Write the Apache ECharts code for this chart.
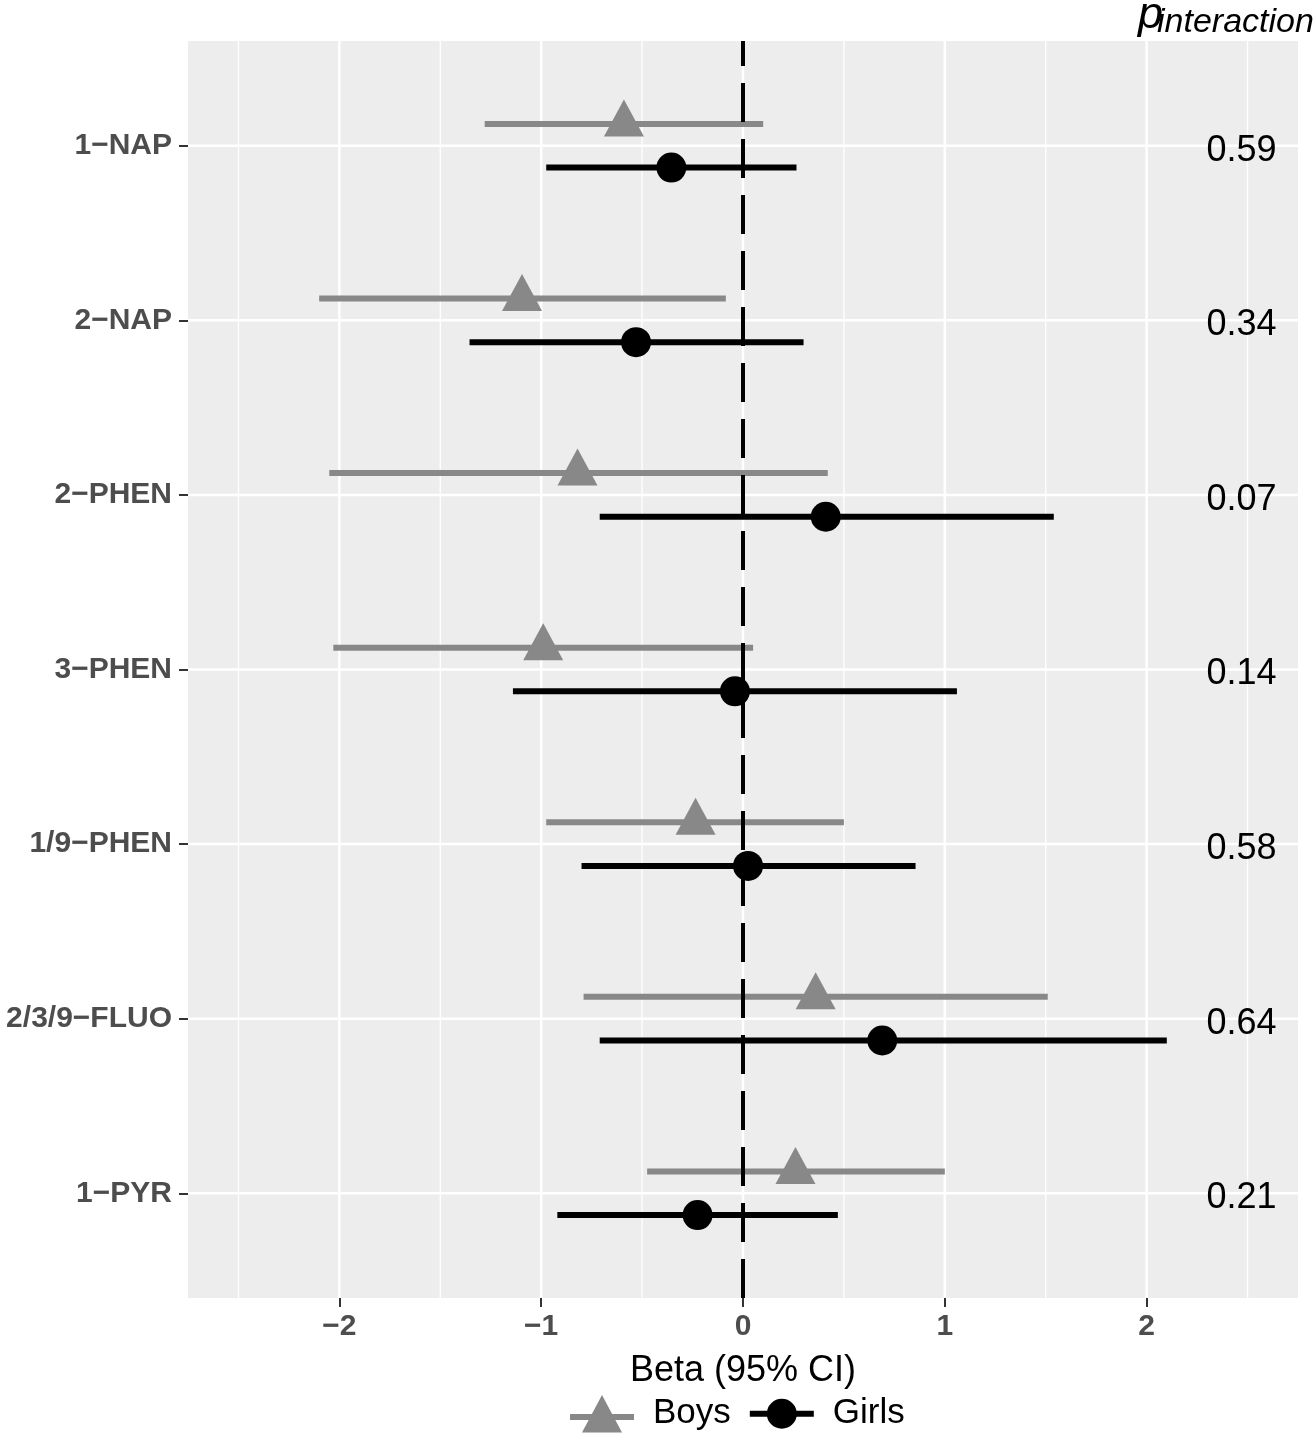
<!DOCTYPE html>
<html><head><meta charset="utf-8">
<script src="https://cdn.jsdelivr.net/npm/echarts@6/dist/echarts.min.js"></script>
<style>html,body{margin:0;padding:0;background:#fff}#c{width:1314px;height:1439px}</style>
</head><body><div id="c"></div>
<script>
// ---- data ----
const categories = ['1−NAP','2−NAP','2−PHEN','3−PHEN','1/9−PHEN','2/3/9−FLUO','1−PYR'];
const boysEst  = [-0.59, -1.095, -0.82, -0.99, -0.235, 0.36, 0.26];
const boysLow  = [-1.28, -2.10, -2.05, -2.03, -0.975, -0.79, -0.475];
const boysHigh = [0.10, -0.085, 0.42, 0.05, 0.50, 1.51, 1.00];
const girlsEst  = [-0.355, -0.53, 0.41, -0.04, 0.025, 0.69, -0.225];
const girlsLow  = [-0.975, -1.355, -0.71, -1.14, -0.80, -0.71, -0.92];
const girlsHigh = [0.265, 0.30, 1.54, 1.06, 0.855, 2.10, 0.47];
const pValues = ['0.59','0.34','0.07','0.14','0.58','0.64','0.21'];
const xTicks = [-2, -1, 0, 1, 2];
const xMinor = [-2.5, -1.5, -0.5, 0.5, 1.5, 2.5];
const refLine = [[0, 7.6], [0, 0.4]];

// ---- layout constants ----
const Y_MIN = 0.4, Y_MAX = 7.6, X_MIN = -2.75, X_MAX = 2.75, DODGE = 0.125, P_X = 2.644;
const FONT = '"Liberation Sans", Arial, Helvetica, sans-serif';
const GREY = '#888888', BLACK = '#000000';
const catPos = categories.map((c, i) => i + 1);

const barData = (lo, hi, off) => lo.map((l, i) => [l, hi[i], i + 1 + off]);
const ptData = (est, off) => est.map((e, i) => [e, i + 1 + off]);

const errRender = color => (params, api) => {
  const a = api.coord([api.value(0), api.value(2)]);
  const b = api.coord([api.value(1), api.value(2)]);
  return {type: 'line', shape: {x1: a[0], y1: a[1], x2: b[0], y2: b[1]},
          style: {stroke: color, lineWidth: 6}};
};
const vGrid = w => (params, api) => {
  const a = api.coord([api.value(0), Y_MIN]);
  const b = api.coord([api.value(0), Y_MAX]);
  return {type: 'line', shape: {x1: a[0], y1: a[1], x2: b[0], y2: b[1]},
          style: {stroke: '#ffffff', lineWidth: w}};
};
const hGrid = (params, api) => {
  const a = api.coord([X_MIN, api.value(1)]);
  const b = api.coord([X_MAX, api.value(1)]);
  return {type: 'line', shape: {x1: a[0], y1: a[1], x2: b[0], y2: b[1]},
          style: {stroke: '#ffffff', lineWidth: 2.5}};
};

const boysIcon = 'path://M0 19 L64 19 L64 25 L0 25 Z M32 0 L52 37.5 L12 37.5 Z';
const girlsIcon = 'path://M0 12 L64 12 L64 18 L0 18 Z M17 15 A15 15 0 1 1 47 15 A15 15 0 1 1 17 15 Z';

const chart = echarts.init(document.getElementById('c'), null, {renderer: 'canvas'});
chart.setOption({
  animation: false,
  backgroundColor: '#ffffff',
  grid: {left: 188, top: 41, width: 1110, height: 1257, show: true,
         backgroundColor: '#EDEDED', borderWidth: 0, containLabel: false, outerBoundsMode: 'none'},
  xAxis: {
    type: 'value', min: X_MIN, max: X_MAX,
    axisLine: {show: true, onZero: false, lineStyle: {opacity: 0}},
    axisTick: {show: true, customValues: xTicks, length: 9, lineStyle: {color: '#333333', width: 2, opacity: 1}},
    axisLabel: {customValues: xTicks, margin: 14, fontSize: 30, fontWeight: 'bold', color: '#4D4D4D',
                fontFamily: FONT, formatter: v => (v < 0 ? '−' : '') + Math.abs(v)},
    splitLine: {show: false},
    name: 'Beta (95% CI)', nameLocation: 'middle', nameGap: 55,
    nameTextStyle: {fontSize: 36, color: '#000', fontFamily: FONT}
  },
  yAxis: {
    type: 'value', min: Y_MIN, max: Y_MAX, inverse: true,
    axisLine: {show: true, onZero: false, lineStyle: {opacity: 0}},
    axisTick: {show: true, customValues: catPos, length: 9, lineStyle: {color: '#333333', width: 2, opacity: 1}},
    axisLabel: {customValues: catPos, margin: 16, fontSize: 30, fontWeight: 'bold', color: '#4D4D4D',
                fontFamily: FONT, formatter: v => categories[Math.round(v) - 1] || ''},
    splitLine: {show: false}
  },
  legend: {
    left: 565, top: 1390, orient: 'horizontal', itemWidth: 64, itemHeight: 40, itemGap: 19,
    selectedMode: false,
    textStyle: {fontSize: 35, color: '#000', fontFamily: FONT, padding: [0, 0, 0, 14]},
    data: [
      {name: 'Boys', icon: boysIcon, itemStyle: {color: GREY}},
      {name: 'Girls', icon: girlsIcon, itemStyle: {color: BLACK}}
    ]
  },
  graphic: [
    {type: 'text', x: 1138, y: 15, style: {text: 'p', font: 'italic 45px ' + FONT, fill: '#000',
      align: 'left', verticalAlign: 'middle', textAlign: 'left', textVerticalAlign: 'middle'}},
    {type: 'text', x: 1157, y: 23, style: {text: 'interaction', font: 'italic 34px ' + FONT, fill: '#000',
      align: 'left', verticalAlign: 'middle', textAlign: 'left', textVerticalAlign: 'middle'}}
  ],
  series: [
    {type: 'custom', name: 'minor', silent: true, z: 1, data: xMinor.map(v => [v, 1]), renderItem: vGrid(1.3)},
    {type: 'custom', name: 'major', silent: true, z: 1, data: xTicks.map(v => [v, 1]), renderItem: vGrid(2.5)},
    {type: 'custom', name: 'hmajor', silent: true, z: 1, data: catPos.map(c => [0, c]), renderItem: hGrid},
    {type: 'custom', name: 'Boys CI', silent: true, z: 3, data: barData(boysLow, boysHigh, -DODGE), renderItem: errRender(GREY)},
    {type: 'custom', name: 'Girls CI', silent: true, z: 3, data: barData(girlsLow, girlsHigh, DODGE), renderItem: errRender(BLACK)},
    {type: 'scatter', name: 'Boys', z: 4, symbol: 'triangle', symbolSize: [40, 37], symbolOffset: [0, -6],
     itemStyle: {color: GREY, opacity: 1}, data: ptData(boysEst, -DODGE)},
    {type: 'scatter', name: 'Girls', z: 4, symbol: 'circle', symbolSize: 30,
     itemStyle: {color: BLACK, opacity: 1}, data: ptData(girlsEst, DODGE)},
    {type: 'line', name: 'ref', z: 5, silent: true, symbol: 'none', data: refLine,
     lineStyle: {color: '#000', width: 4, type: [39, 17]}},
    {type: 'custom', name: 'pvals', silent: true, z: 6, data: catPos.map(c => [P_X, c]),
     renderItem: (params, api) => {
       const p = api.coord([api.value(0), api.value(1)]);
       return {type: 'text', x: p[0], y: p[1] + 5,
               style: {text: pValues[params.dataIndex], fontSize: 36, fontFamily: FONT, fill: '#000',
                       align: 'right', verticalAlign: 'middle', textAlign: 'right', textVerticalAlign: 'middle'}};
     }}
  ]
});
</script></body></html>
